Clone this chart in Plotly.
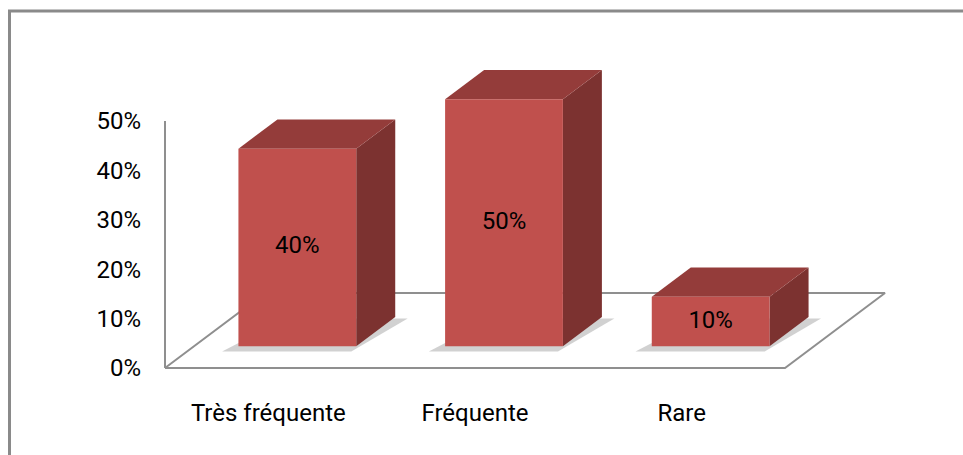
import plotly.graph_objects as go

categories = ["Très fréquente", "Fréquente", "Rare"]
values = [0.40, 0.50, 0.10]
y_ticks = [0, 0.1, 0.2, 0.3, 0.4, 0.5]
y_ticktext = ["0%", "10%", "20%", "30%", "40%", "50%"]

W, H = 963, 455
# pixel geometry of the plotting frame
X0_PX, XN_PX = 165, 785          # front edge of floor
Y0_PX, Y50_PX = 368, 121         # 0% and 50% on the front plane
UX = (XN_PX - X0_PX) / 3.0        # px per category unit
UY = (Y0_PX - Y50_PX) / 0.5       # px per y unit
x_range = [-X0_PX / UX, (W - X0_PX) / UX]
y_range = [-(H - Y0_PX) / UY, Y0_PX / UY]

# oblique depth of the floor (in data units)
DX = 100 / UX
DY = 75 / UY
D0, D1 = 0.29, 0.68               # bar depth span as fraction of floor depth
BW = 0.57                         # bar width in category units

FONT = "Roboto"
FSIZE = 24
FRONT = "#C0504D"
TOP = "#943C3A"
SIDE = "#7C3230"
GRID = "#8F8F8F"


def P(c, v, d):
    return c + d * DX, v + d * DY


def poly(pts, fill, line=None):
    pts = list(pts) + [pts[0]]
    return go.Scatter(x=[p[0] for p in pts], y=[p[1] for p in pts], mode="lines",
                      fill="toself", fillcolor=fill,
                      line=line if line else dict(width=0),
                      hoverinfo="skip", showlegend=False)


fig = go.Figure()

# floor
fig.add_trace(poly([P(0, 0, 0), P(3, 0, 0), P(3, 0, 1), P(0, 0, 1)], "white",
                   dict(color=GRID, width=2)))
# vertical axis line (front plane)
fig.add_trace(go.Scatter(x=[0, 0], y=[0, max(y_ticks)], mode="lines",
                         line=dict(color=GRID, width=2), hoverinfo="skip", showlegend=False))

for i, v in enumerate(values):
    c = i + 0.5
    x0, x1 = c - BW / 2, c + BW / 2
    # soft shadow
    fig.add_trace(poly([P(x0 - 0.045, 0, D0 - 0.07), P(x1 + 0.01, 0, D0 - 0.07),
                        P(x1 + 0.07, 0, D1 - 0.02), P(x0 + 0.05, 0, D1 - 0.02)],
                       "rgba(90,90,90,0.28)"))
    # side face
    fig.add_trace(poly([P(x1, 0, D0), P(x1, v, D0), P(x1, v, D1), P(x1, 0, D1)], SIDE))
    # top face
    fig.add_trace(poly([P(x0, v, D0), P(x1, v, D0), P(x1, v, D1), P(x0, v, D1)], TOP))
    # front face
    fig.add_trace(poly([P(x0, 0, D0), P(x1, 0, D0), P(x1, v, D0), P(x0, v, D0)], FRONT))

# value labels at the centre of each front face
fig.add_trace(go.Scatter(
    x=[i + 0.5 + D0 * DX for i in range(len(values))],
    y=[D0 * DY + v / 2 for v in values],
    mode="text", text=[f"{v:.0%}" for v in values],
    textfont=dict(family=FONT, size=FSIZE, color="black"),
    hoverinfo="skip", showlegend=False))

fig.update_layout(
    width=W, height=H, margin=dict(l=0, r=0, t=0, b=0),
    paper_bgcolor="white", plot_bgcolor="rgba(0,0,0,0)",
    font=dict(family=FONT, size=FSIZE, color="black"),
    xaxis=dict(range=x_range, domain=[0, 1], anchor="free", position=1 - Y0_PX / H,
               tickmode="array", tickvals=[i + 0.5 for i in range(len(categories))],
               ticktext=categories, showgrid=False, zeroline=False, showline=False,
               ticks="", ticklabelstandoff=28, fixedrange=True),
    yaxis=dict(range=y_range, domain=[0, 1], anchor="free", position=X0_PX / W,
               tickmode="array", tickvals=y_ticks, ticktext=y_ticktext,
               showgrid=False, zeroline=False, showline=False, ticks="",
               ticklabelstandoff=24, fixedrange=True),
    shapes=[dict(type="rect", xref="paper", yref="paper",
                 x0=9.5 / W, x1=1.05, y0=-0.05, y1=1 - 11 / H,
                 line=dict(color="#8A8A8A", width=3), layer="below")],
)

fig.write_html("out.html")
